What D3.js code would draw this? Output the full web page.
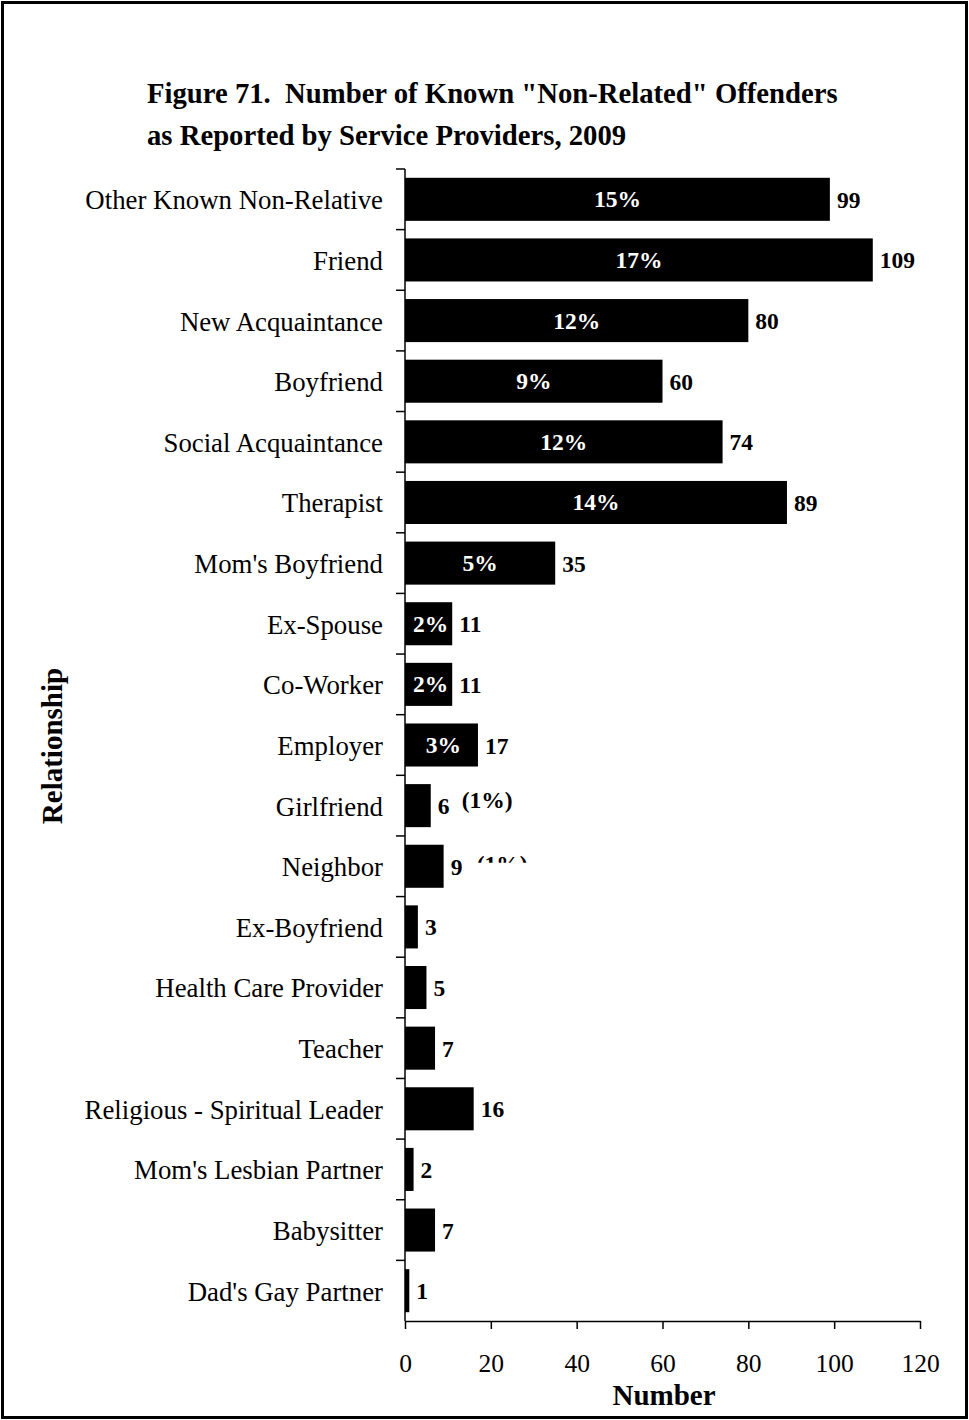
<!DOCTYPE html>
<html>
<head>
<meta charset="utf-8">
<script src="https://cdn.jsdelivr.net/npm/d3@7"></script>
<style>
  body { margin: 0; background: #fff; }
  text { font-family: "Liberation Serif", "Times New Roman", serif; }
</style>
</head>
<body>
<div id="chart"></div>
<script>
// categories top to bottom
var categories = ["Other Known Non-Relative", "Friend", "New Acquaintance", "Boyfriend",
    "Social Acquaintance", "Therapist", "Mom's Boyfriend", "Ex-Spouse", "Co-Worker",
    "Employer", "Girlfriend", "Neighbor", "Ex-Boyfriend", "Health Care Provider",
    "Teacher", "Religious - Spiritual Leader", "Mom's Lesbian Partner", "Babysitter",
    "Dad's Gay Partner"];
var counts = [99, 109, 80, 60, 74, 89, 35, 11, 11, 17, 6, 9, 3, 5, 7, 16, 2, 7, 1];
// percent shown inside the bar
var pctInside = ["15%", "17%", "12%", "9%", "12%", "14%", "5%", "2%", "2%", "3%",
    "", "", "", "", "", "", "", "", ""];
// percent shown beside the value
var pctOutside = ["", "", "", "", "", "", "", "", "", "",
    "(1%)", "(1%)", "", "", "", "", "", "", ""];
var xTicks = [0, 20, 40, 60, 80, 100, 120];

var width = 969, height = 1420;
var mLeft = 405, mRight = 920, mTop = 169, mBottom = 1321;

var svg = d3.select("#chart").append("svg")
    .attr("width", width)
    .attr("height", height);

svg.append("rect")
    .attr("x", 2.5).attr("y", 2.5)
    .attr("width", width - 5).attr("height", height - 5)
    .attr("fill", "white")
    .attr("stroke", "black")
    .attr("stroke-width", 3);

// title
var title = svg.append("text")
    .attr("font-size", 28.7)
    .attr("font-weight", "bold");
title.append("tspan").attr("x", 147).attr("y", 103)
    .attr("xml:space", "preserve")
    .text("Figure 71.  Number of Known \"Non-Related\" Offenders");
title.append("tspan").attr("x", 147).attr("y", 145)
    .text("as Reported by Service Providers, 2009");

var x = d3.scaleLinear().domain([0, 120]).range([mLeft, mRight]);
var y = d3.scaleBand().domain(categories).range([mTop, mBottom]).paddingInner(0.29).paddingOuter(0.145);
var mid = d => y(d) + y.bandwidth() / 2;

// bars
svg.append("g").selectAll("rect")
    .data(categories)
    .join("rect")
    .attr("x", x(0))
    .attr("y", d => y(d))
    .attr("width", (d, i) => x(counts[i]) - x(0))
    .attr("height", y.bandwidth())
    .attr("fill", "black");

// percent inside bars
svg.append("g").selectAll("text")
    .data(categories)
    .join("text")
    .attr("x", (d, i) => (x(0) + x(counts[i])) / 2 + (counts[i] < 20 ? 2 : 0))
    .attr("y", d => mid(d) + 8)
    .attr("text-anchor", "middle")
    .attr("font-size", 23.5)
    .attr("font-weight", "bold")
    .attr("fill", "white")
    .text((d, i) => pctInside[i]);

// value labels
svg.append("g").selectAll("text")
    .data(categories)
    .join("text")
    .attr("x", (d, i) => x(counts[i]) + 7)
    .attr("y", d => mid(d) + 8.5)
    .attr("font-size", 23.5)
    .attr("font-weight", "bold")
    .text((d, i) => counts[i]);

// outside percent labels (the Neighbor one is cut off in the original)
svg.append("defs").append("clipPath").attr("id", "cutNeighbor")
    .append("rect")
    .attr("x", 0).attr("width", width)
    .attr("y", 0).attr("height", mid("Neighbor") - 3.5);

svg.append("g").selectAll("text")
    .data(categories)
    .join("text")
    .attr("x", (d, i) => x(counts[i]) + (d == "Neighbor" ? 33 : 31))
    .attr("y", d => mid(d) + (d == "Neighbor" ? 6 : 2))
    .attr("font-size", 23.5)
    .attr("font-weight", "bold")
    .attr("clip-path", d => d == "Neighbor" ? "url(#cutNeighbor)" : null)
    .text((d, i) => pctOutside[i]);

// y axis: line, ticks at band boundaries, labels
var yAxis = svg.append("g");
yAxis.append("line")
    .attr("x1", mLeft).attr("x2", mLeft)
    .attr("y1", mTop).attr("y2", mBottom)
    .attr("stroke", "black").attr("stroke-width", 1.5);
yAxis.selectAll("line.tick")
    .data(categories)
    .join("line")
    .attr("class", "tick")
    .attr("x1", mLeft - 9).attr("x2", mLeft)
    .attr("y1", d => y(d) - y.paddingOuter() * y.step())
    .attr("y2", d => y(d) - y.paddingOuter() * y.step())
    .attr("stroke", "black").attr("stroke-width", 1.5);

svg.append("g")
    .attr("transform", "translate(" + mLeft + ",0)")
    .call(d3.axisLeft(y).tickSize(0).tickPadding(22))
    .call(g => g.select(".domain").remove())
    .call(g => g.selectAll("text")
        .attr("font-family", "Liberation Serif, serif")
        .attr("font-size", 26.8)
        .attr("dy", "0.37em")
        .attr("fill", "black"));

// x axis
svg.append("g")
    .attr("transform", "translate(0," + mBottom + ")")
    .call(d3.axisBottom(x).tickValues(xTicks).tickSize(8).tickSizeOuter(0).tickPadding(25))
    .call(g => g.select(".domain").attr("stroke-width", 1.5))
    .call(g => g.selectAll(".tick line").attr("stroke-width", 1.5))
    .call(g => g.selectAll("text")
        .attr("font-family", "Liberation Serif, serif")
        .attr("font-size", 25.5)
        .attr("fill", "black"));

// axis titles
svg.append("text")
    .attr("x", 664)
    .attr("y", 1405)
    .attr("text-anchor", "middle")
    .attr("font-size", 29)
    .attr("font-weight", "bold")
    .text("Number");

svg.append("text")
    .attr("transform", "translate(62,746) rotate(-90)")
    .attr("text-anchor", "middle")
    .attr("font-size", 29)
    .attr("font-weight", "bold")
    .text("Relationship");
</script>
</body>
</html>
